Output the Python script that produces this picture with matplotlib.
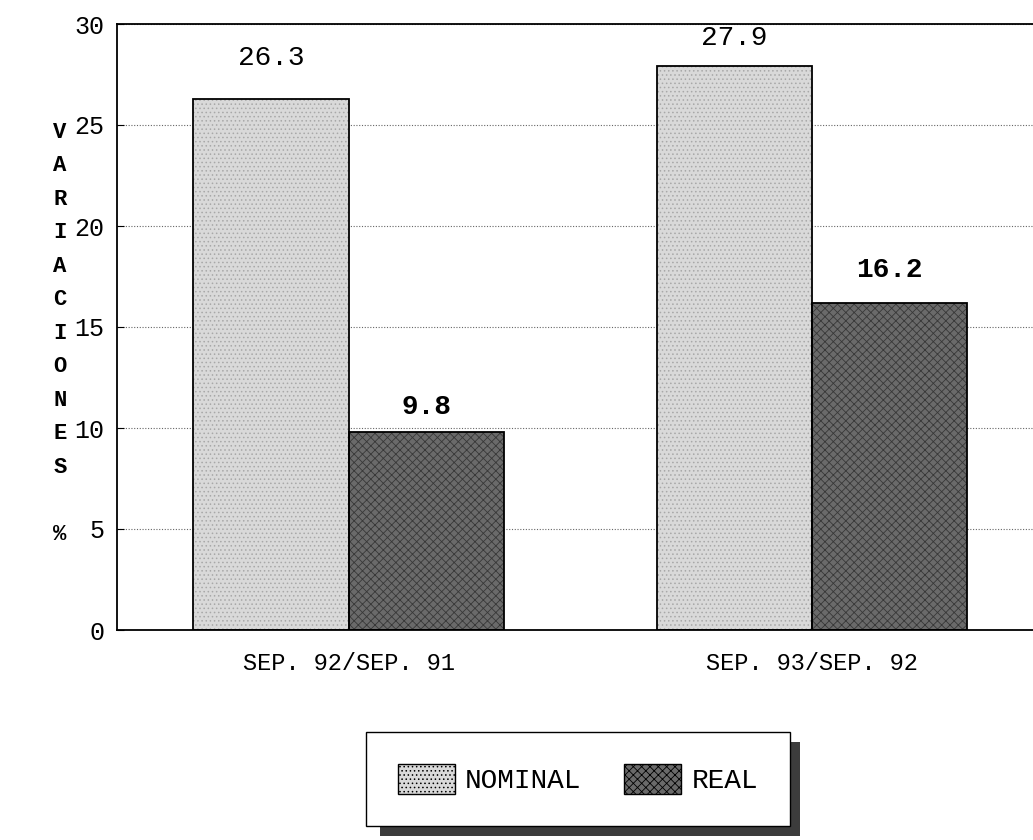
import numpy as np
import matplotlib
matplotlib.use("Agg")
import matplotlib.pyplot as plt
from matplotlib.patches import Patch, Rectangle

# datos
categorias = ["SEP. 92/SEP. 91", "SEP. 93/SEP. 92"]
nominal = [26.3, 27.9]
real = [9.8, 16.2]
series = ["NOMINAL", "REAL"]
yticks = [0, 5, 10, 15, 20, 25, 30]

col_nom = "#d9d9d9"
col_real = "#6a6a6a"
plt.rcParams["font.family"] = ["Liberation Mono", "DejaVu Sans Mono"]
plt.rcParams["hatch.linewidth"] = 0.6

W, H = 1033, 840
fig = plt.figure(figsize=(W / 100, H / 100), dpi=100)
ax = fig.add_axes([117 / W, 1 - 630 / H, (W - 117) / W, (630 - 24) / H])

x = np.arange(len(categorias))
w = 0.335

def barras(pos, vals, color, hatch, hcol):
    # relleno con trama y borde negro por separado
    ax.bar(pos, vals, w, color=color, hatch=hatch, edgecolor=hcol, linewidth=0, zorder=2)
    return ax.bar(pos, vals, w, fill=False, edgecolor="black", linewidth=1.3, zorder=3)

barras(x - w / 2, nominal, col_nom, "....", "#a8a8a8")
barras(x + w / 2, real, col_real, "xxxx", "#383838")

# separacion de cada etiqueta (pt), como en el original
sep_nom = [20, 11]
sep_real = [9, 14]
for xi, v, d in zip(x - w / 2, nominal, sep_nom):
    ax.annotate("%.1f" % v, (xi, v), xytext=(0, d), textcoords="offset points",
                ha="center", va="bottom", fontsize=20)
for xi, v, d in zip(x + w / 2, real, sep_real):
    ax.annotate("%.1f" % v, (xi, v), xytext=(0, d), textcoords="offset points",
                ha="center", va="bottom", fontsize=20, fontweight="bold")

ax.set_ylim(0, 30)
ax.set_xlim(-0.5, 1.477)
ax.set_yticks(yticks)
ax.set_yticklabels([str(t) for t in yticks], fontsize=18)
ax.set_xticks(x)
ax.set_xticklabels(categorias, fontsize=17)
ax.tick_params(axis="x", length=0, pad=16)
ax.tick_params(axis="y", direction="in", length=5, pad=9)
ax.yaxis.grid(True, linestyle=(0, (1, 1.5)), color="#666666", linewidth=0.8, zorder=0)
ax.set_axisbelow(True)
for s in ["left", "top", "bottom"]:
    ax.spines[s].set_linewidth(1.3)
ax.spines["right"].set_visible(False)

fig.text(60 / W, 1 - 122 / H, "V\nA\nR\nI\nA\nC\nI\nO\nN\nE\nS\n\n%",
         ha="center", va="top", fontsize=16, fontweight="bold", linespacing=1.78)

# sombra de la leyenda
fig.patches.append(Rectangle((380 / W, 1 - 836 / H), 420 / W, 94 / H,
                             transform=fig.transFigure, facecolor="#3c3c3c",
                             edgecolor="none", zorder=1))
handles = [Patch(facecolor=col_nom, edgecolor="black", hatch="...."),
           Patch(facecolor=col_real, edgecolor="black", hatch="xxxx")]
lgd = fig.legend(handles, series, loc="center", bbox_to_anchor=(578 / W, 1 - 779 / H),
                 ncol=2, fontsize=20, frameon=True, fancybox=False, framealpha=1,
                 edgecolor="black", borderpad=1.15, handlelength=2.05, handleheight=1.3,
                 columnspacing=1.55, handletextpad=0.36)
lgd.set_zorder(5)
lgd.get_frame().set_linewidth(1.0)

fig.savefig("out.png", dpi=100)
